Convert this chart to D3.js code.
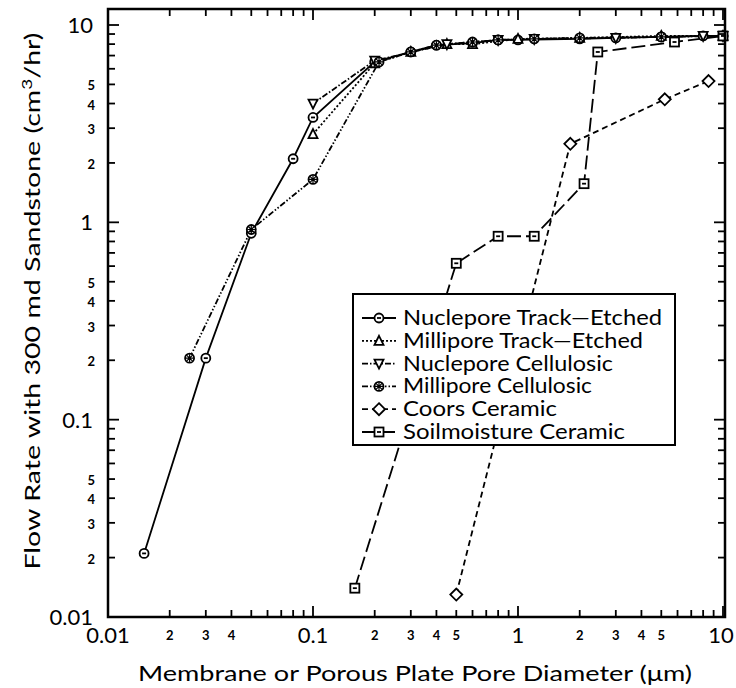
<!DOCTYPE html>
<html><head><meta charset="utf-8">
<script src="https://cdn.jsdelivr.net/npm/d3@7"></script>
<style>body{margin:0;background:#fff}</style>
</head><body>
<svg id="chart" width="736" height="688"></svg>
<script>
const seriesNames = ["Nuclepore Track\u2014Etched","Millipore Track\u2014Etched","Nuclepore Cellulosic","Millipore Cellulosic","Coors Ceramic","Soilmoisture Ceramic"];
const nucTE_x = [0.015,0.03,0.05,0.08,0.1,0.2,0.3,0.4,0.6,0.8,1.0,2,3,5,8,10];
const nucTE_y = [0.021,0.205,0.88,2.1,3.4,6.5,7.3,7.9,8.1,8.4,8.4,8.5,8.6,8.7,8.8,8.8];
const milTE_x = [0.1,0.2,0.3,0.45,0.6,1.0,2,5,10];
const milTE_y = [2.8,6.4,7.3,8.0,8.0,8.5,8.6,8.8,8.8];
const nucCe_x = [0.1,0.2,0.45,0.8,1.2,3,8,10];
const nucCe_y = [4.0,6.6,8.0,8.4,8.5,8.6,8.8,8.8];
const milCe_x = [0.025,0.05,0.1,0.21,0.3,0.4,0.6,0.8,1.2,2,5,10];
const milCe_y = [0.205,0.92,1.65,6.5,7.3,7.9,8.2,8.4,8.5,8.6,8.7,8.8];
const coors_x = [0.5,1.8,5.2,8.5];
const coors_y = [0.013,2.5,4.2,5.2];
const soil_x = [0.16,0.5,0.8,1.2,2.1,2.45,5.8,10];
const soil_y = [0.014,0.62,0.85,0.85,1.57,7.3,8.2,8.8];
const xMajorLabels = ["0.01","0.1","1","10"];
const yMajorLabels = ["0.01","0.1","1","10"];
const xMinorLabels = [0.02,0.03,0.04,0.2,0.3,0.4,0.5,2,3,4,5];
const yMinorLabels = [0.02,0.03,0.04,0.05,0.2,0.3,0.4,0.5,2,3,4,5];

const svg = d3.select("#chart");
const L=108, R=725, T=9, B=617;
const x = d3.scaleLog().domain([0.01,10]).range([L,723]);
const yTop = Math.pow(10, 1 + 16/197.3);
const y = d3.scaleLog().domain([0.01,yTop]).range([B,T]);
const font = "Lato, 'DejaVu Sans', sans-serif";

const series = [
  {xs:nucTE_x, ys:nucTE_y, dash:null, mk:"circle"},
  {xs:milTE_x, ys:milTE_y, dash:"2,2", mk:"tri"},
  {xs:nucCe_x, ys:nucCe_y, dash:"6,2,1.5,2", mk:"tridown"},
  {xs:milCe_x, ys:milCe_y, dash:"6,2,1.5,2,1.5,2", mk:"star"},
  {xs:coors_x, ys:coors_y, dash:"6,4", mk:"diamond"},
  {xs:soil_x, ys:soil_y, dash:"14,5", mk:"square"}
];
const legendWidths = [259,240,210,189,154,222];

function marker(g, type, cx, cy){
  const s = g.append("g").attr("transform",`translate(${cx},${cy})`)
    .attr("fill","#fff").attr("stroke","#000").attr("stroke-width",1.8);
  if(type==="circle"){ s.append("circle").attr("r",4.5); s.append("line").attr("x1",-2).attr("x2",2).attr("y1",0).attr("y2",0);} 
  else if(type==="tri"){ s.append("path").attr("d","M0,-5L4.5,4L-4.5,4Z"); }
  else if(type==="tridown"){ s.append("path").attr("d","M0,5L4.5,-4L-4.5,-4Z"); }
  else if(type==="star"){ s.append("circle").attr("r",4.5); s.append("path").attr("d","M-4,0H4M0,-4V4M-3,-3L3,3M-3,3L3,-3").attr("stroke-width",1.2);} 
  else if(type==="diamond"){ s.append("path").attr("d","M0,-6L6,0L0,6L-6,0Z"); }
  else if(type==="square"){ s.append("rect").attr("x",-4.5).attr("y",-4.5).attr("width",9).attr("height",9); s.append("line").attr("x1",-2).attr("x2",2).attr("y1",0).attr("y2",0);} 
}

const line = d3.line().x(d=>x(d[0])).y(d=>y(d[1]));
const plot = svg.append("g");
series.forEach(s=>{
  const pts = s.xs.map((v,i)=>[v,s.ys[i]]);
  plot.append("path").attr("d",line(pts)).attr("fill","none").attr("stroke","#000")
    .attr("stroke-width",1.8).attr("stroke-dasharray",s.dash);
});
series.forEach(s=>{ s.xs.forEach((v,i)=>marker(plot,s.mk,x(v),y(s.ys[i]))); });

svg.append("rect").attr("x",L).attr("y",T).attr("width",R-L).attr("height",B-T)
  .attr("fill","none").attr("stroke","#000").attr("stroke-width",2.5);

const ticks = [];
for(let e=-2;e<=0;e++) for(let m=1;m<=9;m++) ticks.push(m*Math.pow(10,e));
ticks.push(10);
const tg = svg.append("g").attr("stroke","#000").attr("stroke-width",1.8);
ticks.forEach(v=>{
  const maj = Math.abs(Math.log10(v)-Math.round(Math.log10(v)))<1e-9;
  const len = maj?11:7;
  tg.append("line").attr("x1",x(v)).attr("x2",x(v)).attr("y1",B).attr("y2",B-len);
  tg.append("line").attr("x1",x(v)).attr("x2",x(v)).attr("y1",T).attr("y2",T+len);
  tg.append("line").attr("y1",y(v)).attr("y2",y(v)).attr("x1",L).attr("x2",L+len);
  tg.append("line").attr("y1",y(v)).attr("y2",y(v)).attr("x1",R).attr("x2",R-len);
});

const lab = svg.append("g").attr("font-family",font).attr("fill","#000");
[0.01,0.1,1,10].forEach((v,i)=>{
  lab.append("text").attr("x", i===3?x(v)-2:x(v)).attr("y",643).attr("text-anchor","middle")
    .attr("font-size",22).text(xMajorLabels[i]);
  lab.append("text").attr("x",93).attr("y",y(v)+8).attr("text-anchor","end")
    .attr("font-size",22).text(yMajorLabels[i]);
});
const short = v => String(v).replace(/^0\.0?/,"");
xMinorLabels.forEach(v=>{
  lab.append("text").attr("x",x(v)).attr("y",640).attr("text-anchor","middle")
    .attr("font-size",13).attr("font-weight","bold").text(short(v));
});
yMinorLabels.forEach(v=>{
  lab.append("text").attr("x",95).attr("y",y(v)+6).attr("text-anchor","end")
    .attr("font-size",13).attr("font-weight","bold").text(short(v));
});

lab.append("text").attr("x",415).attr("y",681).attr("text-anchor","middle").attr("font-size",21)
  .attr("textLength",554).attr("lengthAdjust","spacingAndGlyphs")
  .text("Membrane or Porous Plate Pore Diameter (\u03bcm)");
const yt = lab.append("text").attr("transform","translate(40,301) rotate(-90)").attr("text-anchor","middle").attr("font-size",21)
  .attr("textLength",537).attr("lengthAdjust","spacingAndGlyphs");
yt.append("tspan").text("Flow Rate with 300 md Sandstone (cm");
yt.append("tspan").attr("dy",-8).attr("font-size",14).text("3");
yt.append("tspan").attr("dy",8).text("/hr)");

const lg = svg.append("g");
lg.append("rect").attr("x",353).attr("y",294).attr("width",322).attr("height",151)
  .attr("fill","#fff").attr("stroke","#000").attr("stroke-width",2);
series.forEach((s,i)=>{
  const yy = 318 + i*22.8;
  lg.append("line").attr("x1",362).attr("x2",396).attr("y1",yy).attr("y2",yy)
    .attr("stroke","#000").attr("stroke-width",1.8).attr("stroke-dasharray",s.dash);
  marker(lg,s.mk,379,yy);
  lg.append("text").attr("x",403).attr("y",yy+7).attr("font-family",font).attr("font-size",21)
    .attr("textLength",legendWidths[i]).attr("lengthAdjust","spacingAndGlyphs")
    .text(seriesNames[i]);
});
</script>
</body></html>
